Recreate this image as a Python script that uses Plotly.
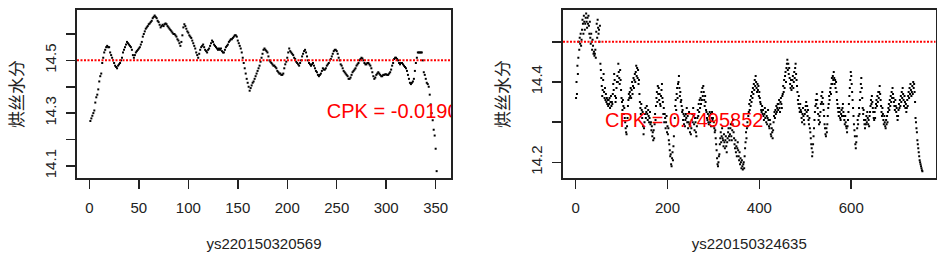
import plotly.graph_objects as go

# ---------------- data ----------------
left_name = "ys220150320569"
right_name = "ys220150324635"
y_label = "烘丝水分"
target = 14.5
left_cpk = "CPK = -0.01903741"
right_cpk = "CPK = 0.7495852"

left_values = [
    14.27, 14.28, 14.29, 14.30, 14.31, 14.34, 14.36, 14.37, 14.39, 14.42,
    14.44, 14.45, 14.49, 14.51, 14.53, 14.54, 14.55, 14.555, 14.55, 14.55,
    14.53, 14.52, 14.51, 14.50, 14.49, 14.48, 14.475, 14.47, 14.48, 14.485,
    14.49, 14.50, 14.51, 14.53, 14.54, 14.55, 14.56, 14.57, 14.565, 14.56,
    14.555, 14.55, 14.54, 14.52, 14.51, 14.52, 14.53, 14.535, 14.54, 14.545,
    14.55, 14.56, 14.57, 14.59, 14.60, 14.61, 14.62, 14.625, 14.63, 14.637,
    14.64, 14.645, 14.65, 14.66, 14.665, 14.67, 14.665, 14.66, 14.65, 14.645,
    14.635, 14.625, 14.63, 14.635, 14.63, 14.637, 14.64, 14.637, 14.63, 14.625,
    14.62, 14.615, 14.61, 14.605, 14.60, 14.60, 14.595, 14.59, 14.58, 14.575,
    14.565, 14.555, 14.57, 14.595, 14.625, 14.637, 14.63, 14.62, 14.61, 14.605,
    14.595, 14.59, 14.585, 14.575, 14.565, 14.555, 14.545, 14.53, 14.52, 14.51,
    14.525, 14.54, 14.55, 14.555, 14.56, 14.55, 14.54, 14.535, 14.53, 14.54,
    14.545, 14.555, 14.565, 14.575, 14.57, 14.56, 14.555, 14.55, 14.545, 14.54,
    14.545, 14.54, 14.545, 14.535, 14.53, 14.53, 14.54, 14.55, 14.555, 14.56,
    14.57, 14.575, 14.58, 14.58, 14.585, 14.59, 14.595, 14.595, 14.59, 14.575,
    14.565, 14.555, 14.545, 14.53, 14.51, 14.49, 14.47, 14.45, 14.43, 14.415,
    14.40, 14.385, 14.395, 14.405, 14.415, 14.42, 14.43, 14.44, 14.45, 14.46,
    14.47, 14.48, 14.495, 14.51, 14.525, 14.54, 14.545, 14.54, 14.535, 14.53,
    14.515, 14.50, 14.495, 14.49, 14.485, 14.48, 14.48, 14.475, 14.47, 14.46,
    14.455, 14.45, 14.45, 14.445, 14.445, 14.45, 14.47, 14.485, 14.495, 14.51,
    14.53, 14.545, 14.535, 14.53, 14.525, 14.52, 14.51, 14.505, 14.495, 14.49,
    14.485, 14.48, 14.49, 14.50, 14.515, 14.525, 14.535, 14.54, 14.53, 14.515,
    14.50, 14.49, 14.485, 14.48, 14.485, 14.49, 14.48, 14.47, 14.46, 14.455,
    14.445, 14.44, 14.445, 14.45, 14.46, 14.47, 14.465, 14.465, 14.47, 14.48,
    14.485, 14.49, 14.50, 14.505, 14.515, 14.525, 14.535, 14.54, 14.54, 14.535,
    14.525, 14.51, 14.50, 14.485, 14.48, 14.47, 14.46, 14.455, 14.45, 14.445,
    14.44, 14.43, 14.43, 14.435, 14.445, 14.455, 14.46, 14.465, 14.47, 14.48,
    14.485, 14.49, 14.50, 14.505, 14.51, 14.507, 14.50, 14.49, 14.485, 14.485,
    14.49, 14.49, 14.485, 14.48, 14.47, 14.455, 14.44, 14.43, 14.435, 14.445,
    14.45, 14.455, 14.45, 14.445, 14.44, 14.44, 14.445, 14.445, 14.447, 14.447,
    14.445, 14.445, 14.45, 14.455, 14.465, 14.48, 14.49, 14.505, 14.51, 14.51,
    14.505, 14.50, 14.49, 14.485, 14.49, 14.49, 14.485, 14.48, 14.475, 14.47,
    14.46, 14.445, 14.43, 14.415, 14.41, 14.415, 14.42, 14.43, 14.46, 14.49,
    14.51, 14.53, 14.53, 14.53, 14.53, 14.53, 14.50, 14.455, 14.445, 14.43,
    14.415, 14.41, 14.40, 14.37, 14.333, 14.30, 14.273, 14.237, 14.215, 14.165, 14.08,
]

right_values = [
    14.36, 14.40, 14.37, 14.44, 14.42, 14.46, 14.50, 14.48, 14.51, 14.495,
    14.52, 14.49, 14.505, 14.53, 14.555, 14.545, 14.52, 14.565, 14.55, 14.53,
    14.545, 14.56, 14.57, 14.55, 14.535, 14.56, 14.545, 14.565, 14.54, 14.52,
    14.55, 14.51, 14.495, 14.52, 14.50, 14.48, 14.505, 14.49, 14.47, 14.475,
    14.465, 14.47, 14.48, 14.46, 14.525, 14.545, 14.51, 14.555, 14.535, 14.52,
    14.53, 14.50, 14.54, 14.445, 14.43, 14.41, 14.39, 14.365, 14.38, 14.405,
    14.42, 14.375, 14.36, 14.385, 14.355, 14.37, 14.35, 14.36, 14.345, 14.355,
    14.34, 14.355, 14.345, 14.36, 14.335, 14.35, 14.365, 14.34, 14.35, 14.345,
    14.37, 14.395, 14.38, 14.42, 14.405, 14.365, 14.35, 14.36, 14.385, 14.40,
    14.415, 14.40, 14.445, 14.425, 14.41, 14.395, 14.43, 14.405, 14.38, 14.36,
    14.35, 14.33, 14.355, 14.34, 14.32, 14.335, 14.31, 14.30, 14.285, 14.275,
    14.27, 14.29, 14.31, 14.34, 14.355, 14.37, 14.36, 14.375, 14.365, 14.385,
    14.36, 14.38, 14.40, 14.37, 14.39, 14.41, 14.385, 14.405, 14.42, 14.40,
    14.425, 14.44, 14.415, 14.435, 14.41, 14.43, 14.395, 14.405, 14.37, 14.35,
    14.335, 14.32, 14.345, 14.33, 14.31, 14.325, 14.29, 14.27, 14.285, 14.30,
    14.32, 14.335, 14.31, 14.325, 14.34, 14.32, 14.305, 14.33, 14.315, 14.30,
    14.31, 14.325, 14.295, 14.30, 14.28, 14.29, 14.265, 14.275, 14.255, 14.28,
    14.26, 14.295, 14.32, 14.305, 14.34, 14.36, 14.375, 14.35, 14.39, 14.37,
    14.385, 14.355, 14.37, 14.345, 14.34, 14.365, 14.38, 14.395, 14.36, 14.35,
    14.32, 14.335, 14.30, 14.32, 14.31, 14.285, 14.30, 14.315, 14.275, 14.29,
    14.27, 14.285, 14.255, 14.245, 14.23, 14.215, 14.22, 14.195, 14.19, 14.21,
    14.225, 14.205, 14.24, 14.265, 14.29, 14.31, 14.34, 14.355, 14.33, 14.37,
    14.385, 14.36, 14.395, 14.40, 14.415, 14.385, 14.365, 14.375, 14.35, 14.355,
    14.34, 14.325, 14.33, 14.305, 14.32, 14.295, 14.315, 14.29, 14.305, 14.32,
    14.31, 14.335, 14.30, 14.315, 14.285, 14.30, 14.325, 14.295, 14.275, 14.29,
    14.27, 14.285, 14.305, 14.32, 14.30, 14.335, 14.315, 14.295, 14.28, 14.31,
    14.30, 14.275, 14.265, 14.29, 14.31, 14.33, 14.315, 14.345, 14.325, 14.355,
    14.335, 14.36, 14.345, 14.375, 14.355, 14.385, 14.365, 14.39, 14.375, 14.355,
    14.34, 14.365, 14.35, 14.33, 14.325, 14.31, 14.305, 14.32, 14.30, 14.295,
    14.315, 14.325, 14.30, 14.32, 14.29, 14.31, 14.325, 14.305, 14.31, 14.29,
    14.30, 14.285, 14.275, 14.28, 14.26, 14.245, 14.23, 14.21, 14.195, 14.19,
    14.20, 14.215, 14.22, 14.245, 14.26, 14.275, 14.25, 14.265, 14.285, 14.26,
    14.255, 14.24, 14.27, 14.25, 14.235, 14.255, 14.265, 14.24, 14.225, 14.25,
    14.26, 14.275, 14.285, 14.265, 14.255, 14.27, 14.285, 14.295, 14.265, 14.255,
    14.28, 14.295, 14.305, 14.275, 14.26, 14.245, 14.235, 14.255, 14.225, 14.24,
    14.215, 14.235, 14.25, 14.23, 14.215, 14.205, 14.225, 14.195, 14.21, 14.20,
    14.185, 14.205, 14.19, 14.182, 14.195, 14.20, 14.185, 14.215, 14.235, 14.25,
    14.275, 14.26, 14.285, 14.30, 14.29, 14.315, 14.325, 14.345, 14.33, 14.355,
    14.34, 14.365, 14.35, 14.375, 14.36, 14.385, 14.37, 14.395, 14.38, 14.405,
    14.39, 14.415, 14.40, 14.385, 14.375, 14.395, 14.38, 14.39, 14.365, 14.375,
    14.36, 14.35, 14.345, 14.33, 14.325, 14.34, 14.32, 14.33, 14.315, 14.305,
    14.32, 14.335, 14.31, 14.325, 14.30, 14.315, 14.295, 14.31, 14.33, 14.305,
    14.29, 14.285, 14.305, 14.295, 14.27, 14.265, 14.285, 14.275, 14.26, 14.28,
    14.30, 14.315, 14.325, 14.31, 14.33, 14.32, 14.34, 14.325, 14.335, 14.345,
    14.33, 14.345, 14.355, 14.335, 14.325, 14.35, 14.36, 14.345, 14.335, 14.365,
    14.37, 14.39, 14.375, 14.405, 14.385, 14.415, 14.425, 14.40, 14.435, 14.445,
    14.455, 14.43, 14.445, 14.42, 14.435, 14.41, 14.395, 14.385, 14.405, 14.38,
    14.39, 14.405, 14.415, 14.385, 14.40, 14.425, 14.41, 14.435, 14.445, 14.42,
    14.405, 14.39, 14.375, 14.355, 14.345, 14.365, 14.335, 14.325, 14.345, 14.33,
    14.325, 14.31, 14.30, 14.32, 14.335, 14.315, 14.305, 14.295, 14.32, 14.33,
    14.34, 14.35, 14.325, 14.34, 14.315, 14.33, 14.305, 14.295, 14.31, 14.285,
    14.275, 14.26, 14.245, 14.235, 14.215, 14.225, 14.245, 14.265, 14.285, 14.305,
    14.325, 14.34, 14.355, 14.345, 14.37, 14.355, 14.335, 14.32, 14.305, 14.295,
    14.315, 14.30, 14.325, 14.345, 14.365, 14.35, 14.375, 14.36, 14.345, 14.33,
    14.315, 14.295, 14.285, 14.27, 14.265, 14.285, 14.275, 14.295, 14.315, 14.335,
    14.345, 14.365, 14.355, 14.375, 14.385, 14.37, 14.395, 14.41, 14.395, 14.415,
    14.405, 14.425, 14.41, 14.395, 14.405, 14.385, 14.40, 14.375, 14.355, 14.345,
    14.335, 14.325, 14.315, 14.335, 14.325, 14.31, 14.305, 14.32, 14.33, 14.315,
    14.335, 14.345, 14.325, 14.315, 14.305, 14.295, 14.315, 14.30, 14.29, 14.285,
    14.275, 14.29, 14.305, 14.325, 14.345, 14.365, 14.385, 14.405, 14.425, 14.415,
    14.395, 14.375, 14.355, 14.335, 14.315, 14.295, 14.28, 14.265, 14.245, 14.235,
    14.25, 14.265, 14.285, 14.305, 14.295, 14.315, 14.335, 14.32, 14.355, 14.375,
    14.395, 14.41, 14.385, 14.36, 14.335, 14.32, 14.33, 14.305, 14.295, 14.285,
    14.305, 14.295, 14.315, 14.30, 14.325, 14.31, 14.295, 14.305, 14.29, 14.315,
    14.325, 14.34, 14.355, 14.345, 14.365, 14.35, 14.335, 14.325, 14.31, 14.305,
    14.325, 14.31, 14.335, 14.345, 14.355, 14.34, 14.365, 14.35, 14.375, 14.36,
    14.375, 14.39, 14.37, 14.355, 14.34, 14.325, 14.315, 14.335, 14.32, 14.305,
    14.295, 14.315, 14.30, 14.29, 14.285, 14.305, 14.295, 14.315, 14.30, 14.325,
    14.335, 14.345, 14.33, 14.355, 14.34, 14.365, 14.35, 14.375, 14.36, 14.385,
    14.37, 14.36, 14.35, 14.34, 14.33, 14.355, 14.34, 14.325, 14.335, 14.315,
    14.305, 14.315, 14.33, 14.345, 14.335, 14.355, 14.34, 14.365, 14.35, 14.375,
    14.36, 14.385, 14.37, 14.355, 14.34, 14.365, 14.35, 14.335, 14.345, 14.325,
    14.335, 14.355, 14.34, 14.365, 14.375, 14.36, 14.385, 14.37, 14.395, 14.38,
    14.365, 14.375, 14.39, 14.37, 14.40, 14.385, 14.395, 14.375, 14.35, 14.31,
    14.30, 14.285, 14.275, 14.255, 14.245, 14.235, 14.225, 14.215, 14.205, 14.20,
    14.195, 14.19, 14.185, 14.18, 14.178,
]

left_xticks = [0, 50, 100, 150, 200, 250, 300, 350]
right_xticks = [0, 200, 400, 600]
left_yticks = [14.1, 14.2, 14.3, 14.4, 14.5, 14.6]
left_yticktext = ["14.1", "", "14.3", "", "14.5", ""]
right_yticks = [14.2, 14.3, 14.4, 14.5]
right_yticktext = ["14.2", "", "14.4", ""]

# ---------------- figure ----------------
W, H = 937, 253
TICKFONT = dict(family="Liberation Sans, Arial, sans-serif", size=15, color="#222222")
TITLEFONT = dict(family="Liberation Sans, Arial, sans-serif", size=15, color="#222222")
CJKFONT = dict(family="Noto Sans CJK SC, sans-serif", size=17, color="#222222")
RED = "#FF0000"

fig = go.Figure()

fig.add_trace(go.Scatter(
    x=list(range(1, len(left_values) + 1)), y=left_values, mode="markers",
    marker=dict(symbol="square", size=2, color="black", line=dict(width=0)),
    xaxis="x", yaxis="y", showlegend=False, hoverinfo="skip"))
fig.add_trace(go.Scatter(
    x=list(range(1, len(right_values) + 1)), y=right_values, mode="markers",
    marker=dict(symbol="square", size=2, color="black", line=dict(width=0)),
    xaxis="x2", yaxis="y2", showlegend=False, hoverinfo="skip"))

# CPK labels (clipped to the plot area like R's text())
fig.add_trace(go.Scatter(
    x=[240], y=[14.3], mode="text", text=[left_cpk], textposition="middle right",
    textfont=dict(family="Liberation Sans, Arial, sans-serif", size=20, color=RED),
    cliponaxis=True, xaxis="x", yaxis="y", showlegend=False, hoverinfo="skip"))
fig.add_trace(go.Scatter(
    x=[64], y=[14.3], mode="text", text=[right_cpk], textposition="middle right",
    textfont=dict(family="Liberation Sans, Arial, sans-serif", size=20, color=RED),
    cliponaxis=True, xaxis="x2", yaxis="y2", showlegend=False, hoverinfo="skip"))

for xr, yr in (("x", "y"), ("x2", "y2")):
    fig.add_shape(type="line", xref=f"{xr} domain", yref=yr, x0=0, x1=1,
                  y0=target, y1=target,
                  line=dict(color=RED, width=2, dash="2px,1.5px"))

ydom = [1 - 178 / H, 1 - 10 / H]

common_x = dict(showgrid=False, zeroline=False, showline=True, mirror=True,
                linecolor="#222222", linewidth=1.8, ticks="outside", ticklen=9,
                tickwidth=1.5, tickcolor="#222222", tickfont=TICKFONT,
                ticklabelstandoff=6, automargin=False)
common_y = dict(showgrid=False, zeroline=False, showline=True, mirror=True,
                linecolor="#222222", linewidth=1.8, ticks="outside", ticklen=9,
                tickwidth=1.5, tickcolor="#222222", tickfont=TICKFONT,
                tickangle=-90, ticklabelstandoff=4, automargin=False)

fig.update_layout(
    width=W, height=H,
    margin=dict(l=0, r=0, t=0, b=0),
    paper_bgcolor="white", plot_bgcolor="white",
    xaxis=dict(common_x, domain=[77 / W, 451 / W], anchor="y",
               range=[-12.5, 365.5], tickvals=left_xticks,
               title=dict(text=left_name, font=TITLEFONT, standoff=24)),
    yaxis=dict(common_y, domain=ydom, anchor="x",
               range=[14.054, 14.691], tickvals=left_yticks, ticktext=left_yticktext,
               title=dict(text=y_label, font=CJKFONT, standoff=14)),
    xaxis2=dict(common_x, domain=[563 / W, 935.5 / W], anchor="y2",
                range=[-27.4, 783.5], tickvals=right_xticks,
                title=dict(text=right_name, font=TITLEFONT, standoff=24)),
    yaxis2=dict(common_y, domain=ydom, anchor="x2",
                range=[14.161, 14.579], tickvals=right_yticks, ticktext=right_yticktext,
                title=dict(text=y_label, font=CJKFONT, standoff=14)),
)

fig.write_html("out.html",
               config={"displayModeBar": False, "staticPlot": True},
               post_script="document.body.style.margin='0';document.body.style.overflow='hidden';")
